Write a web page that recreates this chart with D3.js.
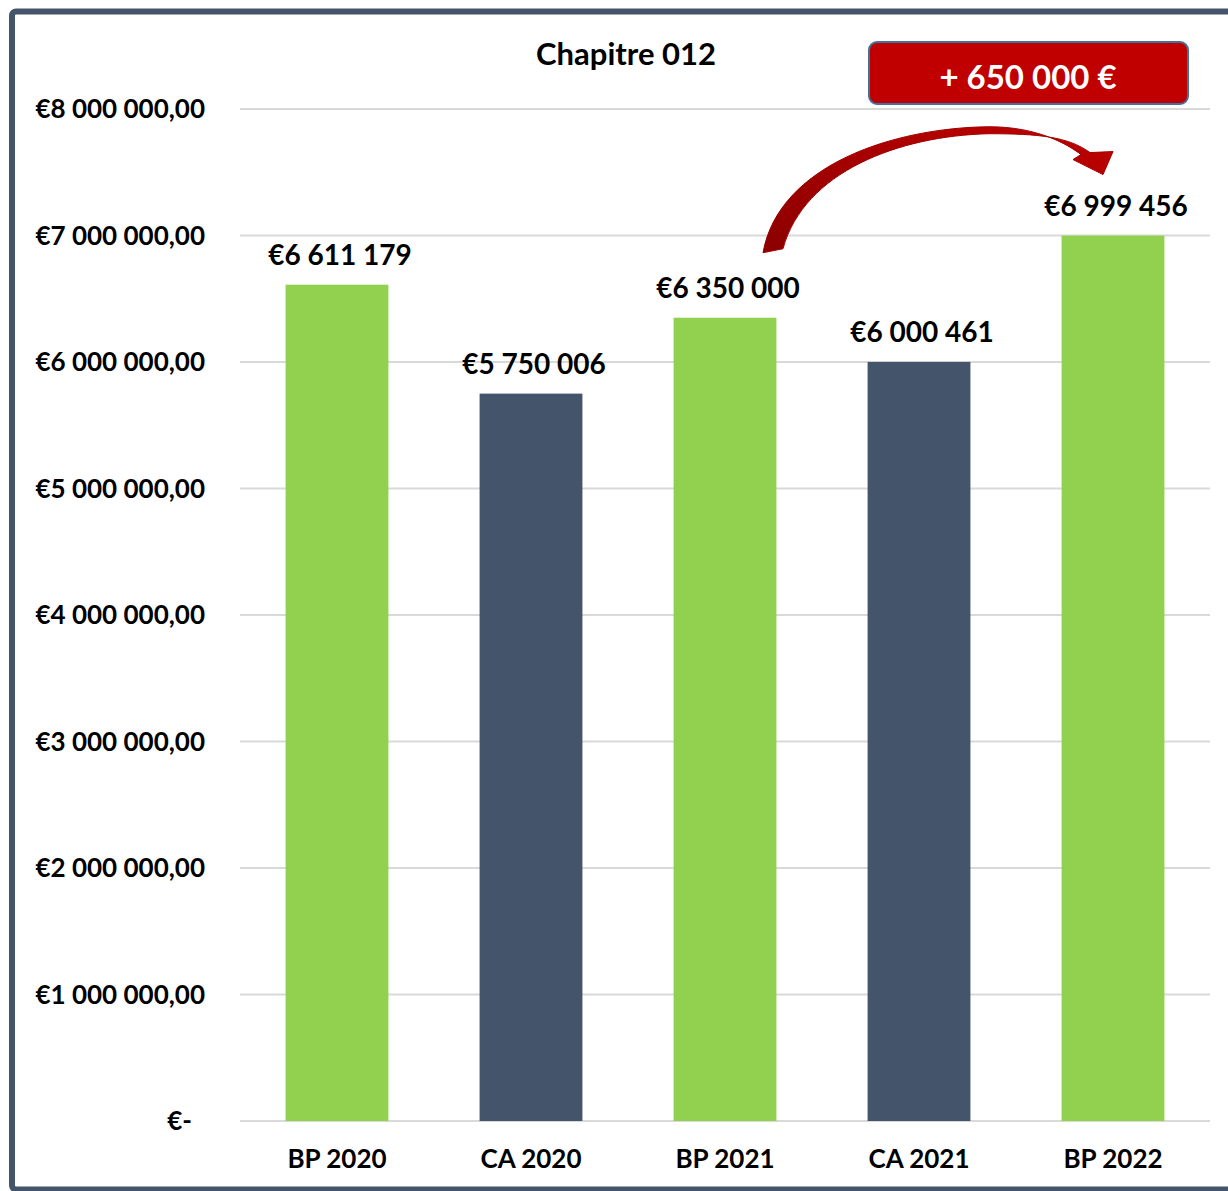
<!DOCTYPE html>
<html>
<head>
<meta charset="utf-8">
<script src="https://cdn.jsdelivr.net/npm/d3@7"></script>
<style>
  body { margin: 0; background: #fff; }
  text { font-family: Lato, "Open Sans", sans-serif; font-weight: bold; }
</style>
</head>
<body>
<svg id="chart" width="1228" height="1191"></svg>
<script>
// data
const categories = ["BP 2020", "CA 2020", "BP 2021", "CA 2021", "BP 2022"];
const values = [6611179, 5750006, 6350000, 6000461, 6999456];
const yTicks = [0, 1000000, 2000000, 3000000, 4000000, 5000000, 6000000, 7000000, 8000000];
const title = "Chapitre 012";
const badgeText = "+ 650 000 €";

const width = 1228, height = 1191;
const margin = {top: 109, right: 18, bottom: 70, left: 240};

const fr = d3.formatLocale({decimal: ",", thousands: " ", grouping: [3], currency: ["€", ""]});
const tickFmt = v => v === 0 ? "€-" : fr.format("$,.2f")(v);
const valFmt = fr.format("$,.0f");

const svg = d3.select("#chart");

// outer frame
svg.append("rect")
    .attr("x", 12).attr("y", 11.5)
    .attr("width", 1240).attr("height", 1178)
    .attr("rx", 4)
    .attr("fill", "#fff")
    .attr("stroke", "#44546A")
    .attr("stroke-width", 6);

const x = d3.scaleBand()
    .domain(categories)
    .range([margin.left, width - margin.right])
    .paddingInner(0.47)
    .paddingOuter(0.235);

const y = d3.scaleLinear()
    .domain([0, 8000000])
    .range([height - margin.bottom, margin.top]);

// gridlines
svg.append("g")
    .selectAll("line")
    .data(yTicks)
    .join("line")
    .attr("x1", margin.left).attr("x2", width - margin.right)
    .attr("y1", d => y(d)).attr("y2", d => y(d))
    .attr("stroke", "#D9D9D9")
    .attr("stroke-width", 2);

// y axis labels
svg.append("g")
    .selectAll("text")
    .data(yTicks)
    .join("text")
    .attr("x", d => d === 0 ? 192 : 205)
    .attr("y", d => y(d))
    .attr("dy", "0.36em")
    .attr("text-anchor", "end")
    .attr("font-size", 26)
    .attr("fill", "#000")
    .text(tickFmt);

// bars
svg.append("g")
    .selectAll("rect")
    .data(values)
    .join("rect")
    .attr("x", (d, i) => x(categories[i]))
    .attr("y", d => y(d))
    .attr("width", x.bandwidth())
    .attr("height", d => y(0) - y(d))
    .attr("fill", (d, i) => categories[i].startsWith("BP") ? "#92D050" : "#44546A");

// value labels
svg.append("g")
    .selectAll("text")
    .data(values)
    .join("text")
    .attr("x", (d, i) => x(categories[i]) + x.bandwidth() / 2 + 3)
    .attr("y", d => y(d) - 20)
    .attr("text-anchor", "middle")
    .attr("font-size", 28)
    .attr("fill", "#000")
    .text(valFmt);

// category labels
svg.append("g")
    .selectAll("text")
    .data(categories)
    .join("text")
    .attr("x", d => x(d) + x.bandwidth() / 2)
    .attr("y", height - margin.bottom + 47)
    .attr("text-anchor", "middle")
    .attr("font-size", 26)
    .attr("fill", "#000")
    .text(d => d);

// title
svg.append("text")
    .attr("x", 626).attr("y", 65)
    .attr("text-anchor", "middle")
    .attr("font-size", 31)
    .attr("fill", "#000")
    .text(title);

// curved arrow from BP 2021 to BP 2022
const tx = x(categories[2]) + x.bandwidth() / 2 + 49, ty = y(values[2]) - 68;
const hx = x(categories[4]) + x.bandwidth() / 2 - 10, hy = y(values[4]) - 61;

const grad = svg.append("defs").append("linearGradient")
    .attr("id", "arrowGrad")
    .attr("x1", "0").attr("y1", "1").attr("x2", "1").attr("y2", "0");
grad.append("stop").attr("offset", "0").attr("stop-color", "#8B0000");
grad.append("stop").attr("offset", "1").attr("stop-color", "#C00000");

const p = d3.path();
p.moveTo(tx - 11, ty + 3);
p.bezierCurveTo(tx + 5, ty - 85, tx + 120, ty - 122, tx + 215, ty - 123);
p.bezierCurveTo(hx - 65, ty - 123, hx - 35, hy - 30, hx - 22, hy - 20);
p.lineTo(hx - 30, hy - 15);
p.lineTo(hx, hy);
p.lineTo(hx + 10, hy - 23);
p.lineTo(hx - 13, hy - 22);
p.bezierCurveTo(hx - 35, hy - 38, hx - 65, ty - 116, tx + 215, ty - 116);
p.bezierCurveTo(tx + 125, ty - 114, tx + 30, ty - 78, tx + 9, ty - 1);
p.closePath();

svg.append("path")
    .attr("d", p.toString())
    .attr("fill", "url(#arrowGrad)")
    .attr("stroke", "#A00000")
    .attr("stroke-width", 1);

// badge
svg.append("rect")
    .attr("x", 869).attr("y", 42)
    .attr("width", 319).attr("height", 62)
    .attr("rx", 8)
    .attr("fill", "#C00000")
    .attr("stroke", "#41719C")
    .attr("stroke-width", 2);

svg.append("text")
    .attr("x", 1028).attr("y", 77)
    .attr("dy", "0.36em")
    .attr("text-anchor", "middle")
    .attr("font-size", 33)
    .attr("fill", "#fff")
    .text(badgeText);
</script>
</body>
</html>
